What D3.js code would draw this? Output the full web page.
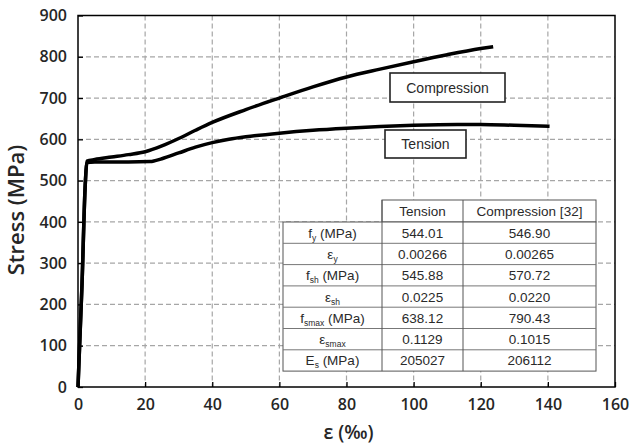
<!DOCTYPE html>
<html>
<head>
<meta charset="utf-8">
<script src="https://cdn.jsdelivr.net/npm/d3@7"></script>
<style>
  body { margin: 0; background: #fff; }
  svg { display: block; }
</style>
</head>
<body>
<div id="chart"></div>
<script>
// strain (per mil) / stress (MPa)
var tensionStrain = [0, 1.2, 2.1, 2.66, 5, 10, 15, 21.5, 25, 30, 35, 40, 45, 50, 60, 70, 80, 90, 100, 113, 120, 130, 140.5]
var tensionStress = [0, 250, 480, 544, 545, 545, 545, 546, 553, 567, 581, 592, 600, 606, 615, 622, 627, 631, 634, 636, 636, 634, 631.5]

var compStrain = [0, 1.2, 2.1, 2.65, 5, 10, 15, 20, 25, 30, 35, 40, 50, 60, 70, 80, 90, 100, 110, 120, 123.7]
var compStress = [0, 250, 480, 547, 551, 557, 563, 570, 584, 602, 622, 641, 672, 700, 727, 751, 770, 788, 805, 820, 824.5]

var xTicks = [0, 20, 40, 60, 80, 100, 120, 140, 160]
var yTicks = [0, 100, 200, 300, 400, 500, 600, 700, 800, 900]

var tableHead = ["", "Tension", "Compression [32]"]
var paramName = [["f", "y", " (MPa)"], ["ε", "y", ""], ["f", "sh", " (MPa)"], ["ε", "sh", ""],
                 ["f", "smax", " (MPa)"], ["ε", "smax", ""], ["E", "s", " (MPa)"]]
var tensionVals = ["544.01", "0.00266", "545.88", "0.0225", "638.12", "0.1129", "205027"]
var compVals = ["546.90", "0.00265", "570.72", "0.0220", "790.43", "0.1015", "206112"]

var width = 630, height = 444
var pLeft = 78, pRight = 615, pTop = 15.5, pBottom = 387

var svg = d3.select("#chart").append("svg")
            .attr("width", width)
            .attr("height", height)

svg.append("rect").attr("width", width).attr("height", height).attr("fill", "#fff")

var x = d3.scaleLinear().domain([0, 160]).range([pLeft, pRight])
var y = d3.scaleLinear().domain([0, 900]).range([pBottom, pTop])

// dashed grid
svg.append("g").selectAll("line")
   .data(xTicks.slice(1, -1)).enter().append("line")
   .attr("x1", d => x(d)).attr("x2", d => x(d))
   .attr("y1", pTop).attr("y2", pBottom)
   .attr("stroke", "#a6a6a6").attr("stroke-width", 1.2)
   .attr("stroke-dasharray", "5,3")
svg.append("g").selectAll("line")
   .data(yTicks.slice(1, -1)).enter().append("line")
   .attr("x1", pLeft).attr("x2", pRight)
   .attr("y1", d => y(d)).attr("y2", d => y(d))
   .attr("stroke", "#a6a6a6").attr("stroke-width", 1.2)
   .attr("stroke-dasharray", "5,3")

// axes, ticks inward
var xAxis = svg.append("g")
               .attr("transform", "translate(0," + pBottom + ")")
               .call(d3.axisBottom(x).tickValues(xTicks).tickSizeInner(-5).tickSizeOuter(0).tickPadding(12))
var yAxis = svg.append("g")
               .attr("transform", "translate(" + pLeft + ",0)")
               .call(d3.axisLeft(y).tickValues(yTicks).tickSizeInner(-5).tickSizeOuter(0).tickPadding(11))
;[xAxis, yAxis].forEach(function (g) {
  g.select(".domain").remove()
  g.selectAll("line").attr("stroke", "#000").attr("stroke-width", 1.3)
  g.selectAll("text")
   .attr("font-family", "Open Sans")
   .attr("font-size", "16px")
   .attr("font-weight", "600")
   .attr("fill", "#262626")
})

// plot frame
svg.append("rect")
   .attr("x", pLeft).attr("y", pTop)
   .attr("width", pRight - pLeft).attr("height", pBottom - pTop)
   .attr("fill", "none")
   .attr("stroke", "#000")
   .attr("stroke-width", 1.5)

// curves
var line = d3.line()
             .x(d => x(d[0]))
             .y(d => y(d[1]))
             .curve(d3.curveMonotoneX)

svg.append("path")
   .datum(d3.zip(tensionStrain, tensionStress))
   .attr("d", line)
   .attr("fill", "none")
   .attr("stroke", "#000")
   .attr("stroke-width", 3.5)
   .attr("stroke-linejoin", "round")
svg.append("path")
   .datum(d3.zip(compStrain, compStress))
   .attr("d", line)
   .attr("fill", "none")
   .attr("stroke", "#000")
   .attr("stroke-width", 3.5)
   .attr("stroke-linejoin", "round")

// curve labels
function labelBox(x0, y0, w, h, txt) {
  svg.append("rect")
     .attr("x", x0).attr("y", y0)
     .attr("width", w).attr("height", h)
     .attr("fill", "#fff")
     .attr("stroke", "#222")
     .attr("stroke-width", 1.6)
  svg.append("text")
     .attr("x", x0 + w / 2).attr("y", y0 + h / 2 + 5)
     .attr("text-anchor", "middle")
     .attr("font-family", "Liberation Sans")
     .attr("font-size", "14px")
     .attr("fill", "#2a2a2a")
     .text(txt)
}
labelBox(390, 73, 115, 29, "Compression")
labelBox(385, 130, 81, 28, "Tension")

// table
var tLeft = 283, c1 = 382, c2 = 463, tRight = 596
var tTop = 200, headH = 22, rowH = 21.3
var tFont = "Liberation Sans"
var tableG = svg.append("g")

tableG.append("rect")
      .attr("x", c1).attr("y", tTop)
      .attr("width", tRight - c1).attr("height", headH)
      .attr("fill", "#fff").attr("stroke", "#555").attr("stroke-width", 1)
tableG.append("rect")
      .attr("x", tLeft).attr("y", tTop + headH)
      .attr("width", tRight - tLeft).attr("height", rowH * paramName.length)
      .attr("fill", "#fff").attr("stroke", "#555").attr("stroke-width", 1)

tableG.selectAll("line.row")
      .data(d3.range(1, paramName.length)).enter().append("line")
      .attr("x1", tLeft).attr("x2", tRight)
      .attr("y1", d => tTop + headH + d * rowH).attr("y2", d => tTop + headH + d * rowH)
      .attr("stroke", "#777").attr("stroke-width", 1)
tableG.selectAll("line.col")
      .data([c1, c2]).enter().append("line")
      .attr("x1", d => d).attr("x2", d => d)
      .attr("y1", tTop).attr("y2", tTop + headH + rowH * paramName.length)
      .attr("stroke", "#555").attr("stroke-width", 1)

var colMid = [(tLeft + c1) / 2, (c1 + c2) / 2, (c2 + tRight) / 2]

tableHead.forEach(function (h, i) {
  tableG.append("text")
        .attr("x", colMid[i]).attr("y", tTop + headH / 2 + 5)
        .attr("text-anchor", "middle")
        .attr("font-family", tFont).attr("font-size", "13.5px").attr("fill", "#2a2a2a")
        .text(h)
})

paramName.forEach(function (p, i) {
  var cy = tTop + headH + i * rowH + rowH / 2 + 5
  var t = tableG.append("text")
                .attr("x", colMid[0]).attr("y", cy)
                .attr("text-anchor", "middle")
                .attr("font-family", tFont).attr("font-size", "13.5px").attr("fill", "#2a2a2a")
  t.append("tspan").text(p[0])
  t.append("tspan").attr("font-size", "8.5px").attr("dy", 3).text(p[1])
  if (p[2]) t.append("tspan").attr("dy", -3).text(p[2])

  tableG.append("text")
        .attr("x", colMid[1]).attr("y", cy)
        .attr("text-anchor", "middle")
        .attr("font-family", tFont).attr("font-size", "13.5px").attr("fill", "#2a2a2a")
        .text(tensionVals[i])
  tableG.append("text")
        .attr("x", colMid[2]).attr("y", cy)
        .attr("text-anchor", "middle")
        .attr("font-family", tFont).attr("font-size", "13.5px").attr("fill", "#2a2a2a")
        .text(compVals[i])
})

// axis titles
svg.append("text")
   .attr("transform", "translate(24,210) rotate(-90)")
   .attr("text-anchor", "middle")
   .attr("font-family", "Open Sans")
   .attr("font-size", "22px")
   .attr("font-weight", "600")
   .attr("fill", "#262626")
   .text("Stress (MPa)")

svg.append("text")
   .attr("x", (pLeft + pRight) / 2 + 2).attr("y", 439)
   .attr("text-anchor", "middle")
   .attr("font-family", "Open Sans")
   .attr("font-size", "19px")
   .attr("font-weight", "600")
   .attr("fill", "#262626")
   .text("ε (‰)")
</script>
</body>
</html>
